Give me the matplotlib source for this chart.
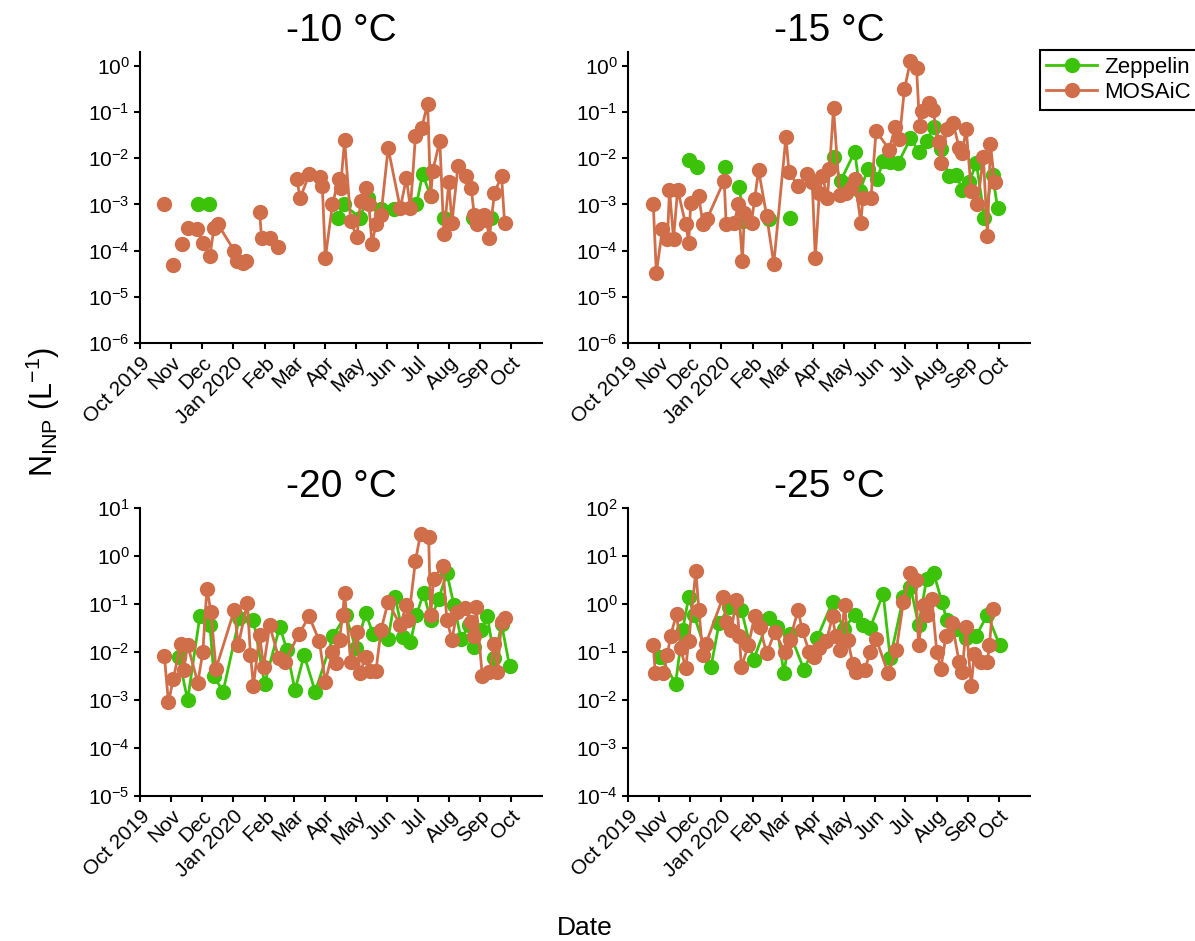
import numpy as np
import pandas as pd
import matplotlib
matplotlib.use('Agg')
import matplotlib.pyplot as plt
from matplotlib.ticker import LogFormatterSciNotation, NullLocator

plt.rcParams['font.family'] = ['Liberation Sans', 'DejaVu Sans']
plt.rcParams['mathtext.fontset'] = 'custom'
plt.rcParams['mathtext.rm'] = 'Liberation Sans'
plt.rcParams['mathtext.it'] = 'Liberation Sans:italic'
plt.rcParams['mathtext.bf'] = 'Liberation Sans:bold'
plt.rcParams['axes.unicode_minus'] = False

nan = np.nan

temps = ['-10 °C', '-15 °C', '-20 °C', '-25 °C']
month_labels = ['Oct 2019', 'Nov', 'Dec', 'Jan 2020', 'Feb', 'Mar', 'Apr', 'May',
                'Jun', 'Jul', 'Aug', 'Sep', 'Oct']
decades = [(-6, 0), (-6, 0), (-5, 1), (-4, 2)]
ytop = [2, 2, 10, 100]

# ---- -10 C ----
zep10_dates = ['2019-11-27', '2019-12-08', '2019-12-20',
               '2020-04-13', '2020-04-19', '2020-05-05', '2020-05-13', '2020-05-26', '2020-06-08',
               '2020-06-30', '2020-07-06', '2020-07-14', '2020-07-20', '2020-07-27', '2020-08-10',
               '2020-08-25', '2020-09-01', '2020-09-12']
zep10_vals = [1e-3, 1e-3, nan,
              5.2e-4, 1e-3, 5.2e-4, 1.4e-3, 7.9e-4, 7.9e-4,
              1e-3, 4.6e-3, 1.5e-3, nan, 5.2e-4, nan,
              5.2e-4, nan, 5.2e-4]
mos10_dates = ['2019-10-25', '2019-10-30', '2019-11-03', '2019-11-07', '2019-11-11', '2019-11-14',
               '2019-11-17', '2019-11-26', '2019-12-02', '2019-12-09', '2019-12-13', '2019-12-17',
               '2020-01-02', '2020-01-05', '2020-01-11', '2020-01-14', '2020-01-20',
               '2020-01-27', '2020-01-29', '2020-02-06', '2020-02-14', '2020-02-25',
               '2020-03-04', '2020-03-07', '2020-03-16', '2020-03-27', '2020-03-29', '2020-04-01',
               '2020-04-08', '2020-04-14', '2020-04-16', '2020-04-20', '2020-04-26', '2020-05-02',
               '2020-05-06', '2020-05-11', '2020-05-14', '2020-05-17', '2020-05-21', '2020-05-26',
               '2020-06-02', '2020-06-14', '2020-06-20', '2020-06-24', '2020-06-29', '2020-07-05',
               '2020-07-11', '2020-07-14', '2020-07-16', '2020-07-23', '2020-07-27', '2020-08-01',
               '2020-08-04', '2020-08-10', '2020-08-18', '2020-08-23', '2020-08-26', '2020-08-29',
               '2020-09-05', '2020-09-07', '2020-09-10', '2020-09-15', '2020-09-22', '2020-09-25']
mos10_vals = [1.0e-3, nan, 5e-5, nan, 1.4e-4, nan,
              3.1e-4, 2.9e-4, 1.5e-4, 7.7e-5, 3.1e-4, 3.7e-4,
              1.0e-4, 6e-5, 5.5e-5, 6e-5, nan,
              7e-4, 1.9e-4, 1.9e-4, 1.2e-4, nan,
              3.5e-3, 1.35e-3, 4.5e-3, 3.9e-3, 2.5e-3, 7e-5,
              1e-3, 3.5e-3, 2.3e-3, 2.5e-2, 4.4e-4, 2e-4,
              1.2e-3, 2.3e-3, 1e-3, 1.4e-4, 3.7e-4, 6e-4,
              1.65e-2, 8.3e-4, 3.7e-3, 8.3e-4, 3e-2, 4.5e-2,
              0.15, 1.5e-3, 5.3e-3, 2.4e-2, 2.3e-4, 3e-3,
              4e-4, 6.8e-3, 4.1e-3, 2.3e-3, 6e-4, 3.7e-4,
              6e-4, 4.5e-4, 1.9e-4, 1.8e-3, 4.1e-3, 4e-4]

# ---- -15 C ----
zep15_dates = ['2019-11-30', '2019-12-08', '2019-12-20', '2020-01-05', '2020-01-12',
               '2020-01-19', '2020-01-23', '2020-02-05', '2020-02-17', '2020-02-28', '2020-03-09',
               '2020-03-20',
               '2020-04-21', '2020-04-28', '2020-05-12', '2020-05-17', '2020-05-25', '2020-06-03',
               '2020-06-09', '2020-06-16', '2020-06-24', '2020-07-06', '2020-07-14', '2020-07-22',
               '2020-07-29', '2020-08-05', '2020-08-13', '2020-08-20', '2020-08-26', '2020-09-02',
               '2020-09-09', '2020-09-17', '2020-09-25', '2020-09-30']
zep15_vals = [9e-3, 6.5e-3, nan, 6.5e-3, nan,
              2.4e-3, 4.4e-4, nan, 4.8e-4, nan, 5e-4,
              nan,
              1.07e-2, 3.2e-3, 1.4e-2, 2e-3, 5.8e-3, 3.5e-3,
              8.7e-3, 8.3e-3, 8e-3, 2.7e-2, 1.4e-2, 2.4e-2,
              4.8e-2, 1.6e-2, 4.1e-3, 4.4e-3, 2.1e-3, 3e-3,
              8e-3, 5.2e-4, 4.4e-3, 8.5e-4]
mos15_dates = ['2019-10-26', '2019-10-29', '2019-11-04', '2019-11-09', '2019-11-11', '2019-11-15',
               '2019-11-19', '2019-11-27', '2019-11-30', '2019-12-02', '2019-12-10', '2019-12-14',
               '2019-12-18', '2020-01-04', '2020-01-06', '2020-01-14', '2020-01-18', '2020-01-22',
               '2020-01-24', '2020-01-31', '2020-02-03', '2020-02-07', '2020-02-15', '2020-02-22',
               '2020-03-05', '2020-03-08', '2020-03-17', '2020-03-26', '2020-03-31', '2020-04-03',
               '2020-04-07', '2020-04-10', '2020-04-15', '2020-04-17', '2020-04-21', '2020-04-27',
               '2020-05-03', '2020-05-08', '2020-05-12', '2020-05-18', '2020-05-20', '2020-05-28',
               '2020-06-02', '2020-06-15', '2020-06-21', '2020-06-25', '2020-06-30', '2020-07-06',
               '2020-07-12', '2020-07-15', '2020-07-17', '2020-07-24', '2020-07-28', '2020-08-03',
               '2020-08-05', '2020-08-11', '2020-08-17', '2020-08-23', '2020-08-26', '2020-08-30',
               '2020-09-04', '2020-09-10', '2020-09-16', '2020-09-20', '2020-09-23', '2020-09-27']
mos15_vals = [1e-3, 3.3e-5, 2.9e-4, 1.8e-4, 2.1e-3, 1.8e-4,
              2.1e-3, 3.7e-4, 1.5e-4, 1.1e-3, 1.5e-3, 3.7e-4,
              4.8e-4, 3.3e-3, 3.7e-4, 4e-4, 1e-3, 6e-5,
              6.6e-4, 4e-4, 1.3e-3, 5.5e-3, 5.6e-4, 5.2e-5,
              2.9e-2, 5.1e-3, 2.5e-3, 4.5e-3, 3e-3, 7e-5,
              1.8e-3, 4.1e-3, 1.4e-3, 5.8e-3, 0.12, 1.6e-3,
              1.8e-3, 2.3e-3, 3.5e-3, 4e-4, 1.4e-3, 1.4e-3,
              3.9e-2, 1.55e-2, 4.8e-2, 2.6e-2, 0.31, 1.3,
              0.9, 5e-2, 0.105, 0.16, 0.11, 2.3e-2,
              8e-3, 4.3e-2, 5.9e-2, 1.7e-2, 1.3e-2, 4.3e-2,
              2e-3, 1e-3, 1.07e-2, 2.1e-4, 2e-2, 3e-3]

# ---- -20 C ----
zep20_dates = ['2019-11-08', '2019-11-17', '2019-11-29', '2019-12-09', '2019-12-13', '2019-12-22',
               '2020-01-07', '2020-01-21', '2020-02-01', '2020-02-16', '2020-02-23', '2020-03-02',
               '2020-03-11', '2020-03-22', '2020-04-09', '2020-04-21', '2020-05-01', '2020-05-11',
               '2020-05-18', '2020-06-02', '2020-06-09', '2020-06-17', '2020-06-24', '2020-06-30',
               '2020-07-07', '2020-07-14', '2020-07-22', '2020-07-30', '2020-08-06', '2020-08-13',
               '2020-08-21', '2020-08-26', '2020-09-02', '2020-09-08', '2020-09-15', '2020-09-22',
               '2020-09-30']
zep20_vals = [7.9e-3, 1e-3, 5.5e-2, 3.6e-2, 3.1e-3, 1.5e-3,
              5e-2, 4.6e-2, 2.2e-3, 3.4e-2, 1.1e-2, 1.6e-3,
              8.6e-3, 1.5e-3, 2.2e-2, 5.9e-2, 1.2e-2, 6.4e-2,
              2.4e-2, 1.9e-2, 0.14, 2.1e-2, 1.6e-2, 5.9e-2,
              0.17, 4.7e-2, 0.13, 0.44, 9.5e-2, 1.9e-2,
              3.6e-2, 1.3e-2, 2.9e-2, 5.5e-2, 7.4e-3, 3.8e-2,
              5e-3]
mos20_dates = ['2019-10-25', '2019-10-29', '2019-11-03', '2019-11-10', '2019-11-13', '2019-11-17',
               '2019-11-27', '2019-12-02', '2019-12-06', '2019-12-10', '2019-12-15', '2020-01-02',
               '2020-01-06', '2020-01-15', '2020-01-18', '2020-01-21', '2020-01-27', '2020-01-31',
               '2020-02-06', '2020-02-15', '2020-02-21', '2020-03-06', '2020-03-16', '2020-03-26',
               '2020-04-01', '2020-04-08', '2020-04-12', '2020-04-15', '2020-04-18', '2020-04-20',
               '2020-04-26', '2020-05-02', '2020-05-05', '2020-05-11', '2020-05-15', '2020-05-21',
               '2020-05-26', '2020-06-02', '2020-06-14', '2020-06-20', '2020-06-22', '2020-06-29',
               '2020-07-04', '2020-07-12', '2020-07-14', '2020-07-17', '2020-07-26', '2020-07-30',
               '2020-08-04', '2020-08-09', '2020-08-17', '2020-08-23', '2020-08-26', '2020-08-28',
               '2020-09-03', '2020-09-10', '2020-09-15', '2020-09-18', '2020-09-22', '2020-09-25']
mos20_vals = [8.4e-3, 9e-4, 2.8e-3, 1.5e-2, 4.2e-3, 1.4e-2,
              2.3e-3, 1e-2, 0.21, 6.9e-2, 4.5e-3, 7.4e-2,
              1.4e-2, 0.107, 8.8e-3, 2e-3, 2.3e-2, 4.9e-3,
              3.6e-2, 7.4e-3, 6.3e-3, 2.4e-2, 5.5e-2, 1.7e-2,
              2.4e-3, 1e-2, 6e-3, 1.8e-2, 5.9e-2, 0.17,
              6.3e-3, 2.6e-2, 3.6e-3, 8e-3, 4e-3, 4.1e-3,
              2.9e-2, 0.11, 3.6e-2, 9.5e-2, 4.6e-2, 0.8,
              2.9, 2.5, 5.9e-2, 0.34, 0.63, 4.7e-2,
              1.8e-2, 6.9e-2, 8.1e-2, 4.3e-2, 2.2e-2, 8.8e-2,
              3.1e-3, 3.9e-3, 1.5e-2, 3.9e-3, 4.3e-2, 5.2e-2]

# ---- -25 C ----
zep25_dates = ['2019-11-02', '2019-11-17', '2019-11-24', '2019-11-30', '2019-12-05', '2019-12-22',
               '2019-12-30', '2020-01-09', '2020-01-21', '2020-02-02', '2020-02-17', '2020-02-25',
               '2020-03-03', '2020-03-09', '2020-03-23', '2020-04-05', '2020-04-20', '2020-05-01',
               '2020-05-12', '2020-05-20', '2020-05-27', '2020-06-09', '2020-06-16', '2020-06-29',
               '2020-07-06', '2020-07-14', '2020-07-22', '2020-07-29', '2020-08-06', '2020-08-11',
               '2020-08-20', '2020-08-30', '2020-09-09', '2020-09-20', '2020-10-02']
zep25_vals = [8e-2, 2.2e-2, 0.29, 1.4, 0.6, 4.9e-2,
              0.4, 0.87, 0.76, 6.8e-2, 0.5, 0.34,
              3.6e-2, 0.24, 4.2e-2, 0.2, 1.1, 0.3,
              0.6, 0.36, 0.31, 1.65, 7.4e-2, 1.4,
              2.3, 0.36, 3.4, 4.4, 1.1, 0.46,
              0.3, 0.2, 0.22, 0.6, 0.14]
mos25_dates = ['2019-10-26', '2019-10-28', '2019-11-05', '2019-11-09', '2019-11-12', '2019-11-18',
               '2019-11-22', '2019-11-27', '2019-11-30', '2019-12-07', '2019-12-10', '2019-12-14',
               '2019-12-17', '2020-01-03', '2020-01-06', '2020-01-11', '2020-01-16', '2020-01-19',
               '2020-01-21', '2020-01-28', '2020-02-03', '2020-02-08', '2020-02-15', '2020-02-23',
               '2020-03-04', '2020-03-09', '2020-03-17', '2020-03-21', '2020-03-28', '2020-04-02',
               '2020-04-07', '2020-04-14', '2020-04-20', '2020-04-23', '2020-04-27', '2020-05-02',
               '2020-05-05', '2020-05-10', '2020-05-13', '2020-05-22', '2020-05-27', '2020-06-02',
               '2020-06-14', '2020-06-22', '2020-06-29', '2020-07-06', '2020-07-11', '2020-07-14',
               '2020-07-19', '2020-07-22', '2020-07-27', '2020-08-01', '2020-08-05', '2020-08-10',
               '2020-08-16', '2020-08-23', '2020-08-26', '2020-08-30', '2020-09-04', '2020-09-07',
               '2020-09-14', '2020-09-20', '2020-09-22', '2020-09-25']
mos25_vals = [0.14, 3.6e-2, 3.6e-2, 8.7e-2, 0.22, 0.61,
              0.12, 4.6e-2, 0.17, 4.9, 0.76, 8.7e-2,
              0.15, 1.42, 0.43, 0.29, 1.2, 0.22,
              4.9e-2, 0.14, 0.55, 0.34, 9.4e-2, 0.26,
              0.10, 0.18, 0.76, 0.29, 0.10, 8e-2,
              0.12, 0.17, 0.55, 0.22, 0.11, 0.95,
              0.18, 5.7e-2, 3.9e-2, 4.2e-2, 0.10, 0.19,
              3.6e-2, 0.11, 1.1, 4.4, 3.2, 0.14,
              0.95, 0.58, 1.3, 0.10, 4.5e-2, 0.22,
              0.40, 6.3e-2, 3.9e-2, 0.34, 2e-2, 9e-2,
              6.3e-2, 6.3e-2, 0.14, 0.8]

zep_dates = [zep10_dates, zep15_dates, zep20_dates, zep25_dates]
zep_vals = [zep10_vals, zep15_vals, zep20_vals, zep25_vals]
mos_dates = [mos10_dates, mos15_dates, mos20_dates, mos25_dates]
mos_vals = [mos10_vals, mos15_vals, mos20_vals, mos25_vals]

green = '#3dc20a'
orange = '#d06e4a'

fig = plt.figure(figsize=(11.95, 9.41), dpi=100)
positions = [[0.1172, 0.6355, 0.3364, 0.3092],
             [0.5255, 0.6355, 0.3364, 0.3092],
             [0.1172, 0.1541, 0.3364, 0.3060],
             [0.5255, 0.1541, 0.3364, 0.3060]]
month_ticks = pd.date_range('2019-10-01', '2020-10-01', freq='MS')

for i in range(4):
    ax = fig.add_axes(positions[i])
    l1, = ax.plot(pd.to_datetime(zep_dates[i]), zep_vals[i], '-o', color=green,
                  ms=10, lw=2, label='Zeppelin', zorder=2)
    l2, = ax.plot(pd.to_datetime(mos_dates[i]), mos_vals[i], '-o', color=orange,
                  ms=10, lw=2, label='MOSAiC', zorder=3)
    ax.set_yscale('log')
    lo, hi = decades[i]
    ax.set_ylim(10.0**lo, ytop[i])
    ax.set_yticks([10.0**k for k in range(lo, hi + 1)])
    ax.yaxis.set_major_formatter(LogFormatterSciNotation())
    ax.yaxis.set_minor_locator(NullLocator())
    ax.set_xlim(pd.Timestamp('2019-10-01'), pd.Timestamp('2020-11-01'))
    ax.set_xticks(month_ticks)
    ax.set_xticklabels(month_labels, rotation=45, ha='right', rotation_mode='anchor')
    ax.xaxis.set_minor_locator(NullLocator())
    ax.tick_params(labelsize=15, width=1.5, length=4, direction='out')
    for s in ['top', 'right']:
        ax.spines[s].set_visible(False)
    for s in ['left', 'bottom']:
        ax.spines[s].set_linewidth(1.5)
    ax.set_title(temps[i], fontsize=28, pad=8)

leg = fig.legend([l1, l2], ['Zeppelin', 'MOSAiC'], loc='upper left',
                 bbox_to_anchor=(0.870, 0.947), borderaxespad=0, fancybox=False,
                 edgecolor='black', fontsize=16, handlelength=2.3, borderpad=0.3,
                 labelspacing=0.2, handletextpad=0.3, framealpha=1)
leg.get_frame().set_linewidth(1.5)

fig.text(0.036, 0.562, r'N$_{\mathrm{INP}}$ (L$^{-1}$)', rotation=90,
         ha='center', va='center', fontsize=22)
fig.text(0.4895, 0.0138, 'Date', ha='center', va='center', fontsize=19)

fig.savefig('out.png', dpi=100)
